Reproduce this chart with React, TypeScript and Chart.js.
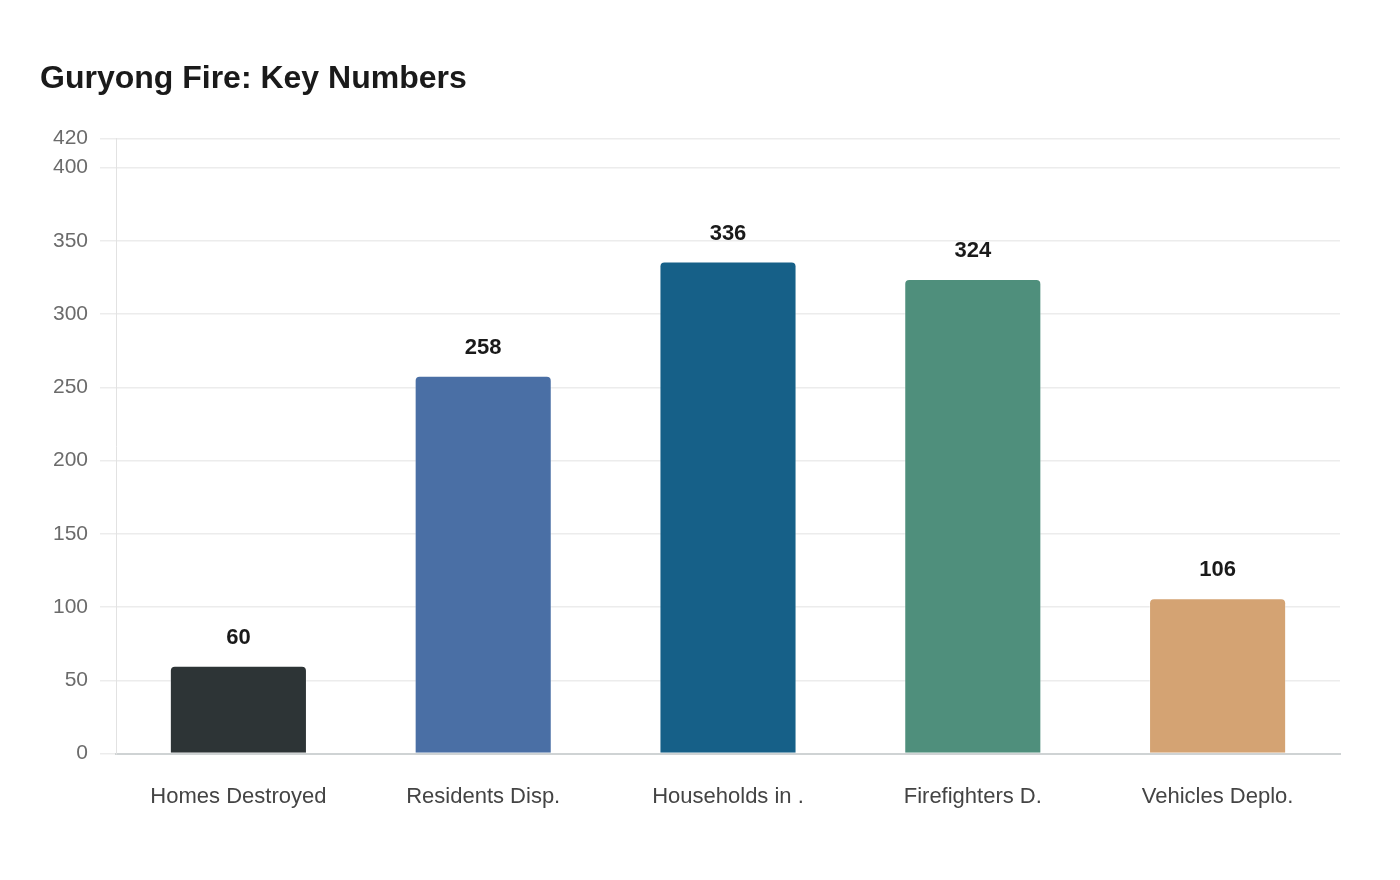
import { useEffect, useRef } from "react";
import { Chart, registerables } from "chart.js";

Chart.register(...registerables);

const categories = [
  "Homes Destroyed",
  "Residents Disp.",
  "Households in .",
  "Firefighters D.",
  "Vehicles Deplo.",
];
const values = [60, 258, 336, 324, 106];
const barColors = ["#2d3436", "#4a6fa5", "#166088", "#4f8f7c", "#d4a373"];
const yTicks = [0, 50, 100, 150, 200, 250, 300, 350, 400, 420];

const FONT = "'Liberation Sans', Arial, sans-serif";

// draws the value above each bar
const valueLabels = {
  id: "valueLabels",
  afterDatasetsDraw(chart: any) {
    const ctx = chart.ctx;
    const meta = chart.getDatasetMeta(0);
    ctx.save();
    ctx.font = `bold 22px ${FONT}`;
    ctx.fillStyle = "#1a1a1a";
    ctx.textAlign = "center";
    ctx.textBaseline = "middle";
    meta.data.forEach((bar: any, i: number) => {
      ctx.fillText(String(values[i]), bar.x, bar.y - 28);
    });
    ctx.restore();
  },
};

export default function App() {
  const chartRef = useRef<HTMLCanvasElement | null>(null);

  useEffect(() => {
    document.body.style.margin = "0";
    const canvas = chartRef.current;
    if (!canvas) return;
    const ctx = canvas.getContext("2d");
    if (!ctx) return;

    const myChart = new Chart(ctx, {
      type: "bar",
      data: {
        labels: categories,
        datasets: [
          {
            data: values,
            backgroundColor: barColors,
            borderColor: "rgba(255,255,255,0.35)",
            borderWidth: 1,
            borderRadius: { topLeft: 5, topRight: 5 },
            borderSkipped: "bottom",
            categoryPercentage: 1,
            barPercentage: 0.56,
          },
        ],
      },
      options: {
        animation: false,
        responsive: false,
        layout: { padding: { left: 40, right: 60, top: 0, bottom: 40 } },
        plugins: {
          legend: { display: false },
          tooltip: { enabled: false },
          title: {
            display: true,
            text: "Guryong Fire: Key Numbers",
            align: "start",
            color: "#1a1a1a",
            font: { family: FONT, size: 32, weight: "bold" },
            padding: { top: 60, bottom: 40 },
          },
        },
        scales: {
          x: {
            grid: { display: false, drawTicks: false },
            border: { color: "#cfd3d4", width: 2 },
            ticks: {
              color: "#444",
              padding: 30,
              font: { family: FONT, size: 22 },
            },
          },
          y: {
            min: 0,
            max: 420,
            afterBuildTicks(axis: any) {
              axis.ticks = yTicks.map((v) => ({ value: v }));
            },
            afterFit(axis: any) {
              axis.width = 76;
            },
            grid: { color: "#ececec", lineWidth: 1.5, tickLength: 16 },
            border: { color: "#e2e2e2", width: 1 },
            ticks: {
              color: "#6b6b6b",
              padding: 12,
              font: { family: FONT, size: 21 },
            },
          },
        },
      },
      plugins: [valueLabels],
    });

    return () => {
      myChart.destroy();
    };
  }, []);

  return (
    <div style={{ width: "1400px", height: "880px", background: "#fff" }}>
      <canvas ref={chartRef} width={1400} height={880} style={{ width: "1400px", height: "880px" }}></canvas>
    </div>
  );
}
